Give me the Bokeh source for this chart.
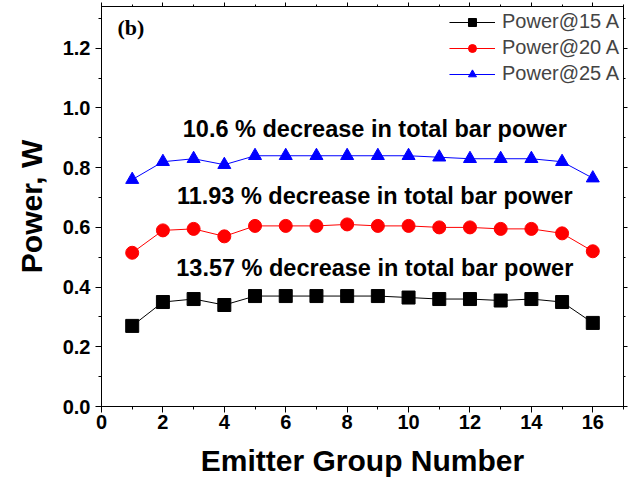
from bokeh.plotting import figure
from bokeh.models import (LinearAxis, Legend, LegendItem, Label, Range1d,
                          SingleIntervalTicker, NumeralTickFormatter)
from bokeh.embed import file_html
from bokeh.resources import INLINE

emitter = list(range(1, 17))
power_15A = [0.27, 0.35, 0.36, 0.34, 0.37, 0.37, 0.37, 0.37, 0.37, 0.365, 0.36, 0.36, 0.355, 0.36, 0.35, 0.28]
power_20A = [0.515, 0.59, 0.595, 0.57, 0.605, 0.605, 0.605, 0.61, 0.605, 0.605, 0.60, 0.60, 0.595, 0.595, 0.58, 0.52]
power_25A = [0.76, 0.82, 0.83, 0.81, 0.84, 0.84, 0.84, 0.84, 0.84, 0.84, 0.835, 0.83, 0.83, 0.83, 0.82, 0.765]
series_labels = ["Power@15 A", "Power@20 A", "Power@25 A"]
annotation_texts = ["10.6 % decrease in total bar power",
                    "11.93 % decrease in total bar power",
                    "13.57 % decrease in total bar power"]
annotation_x = [8.9, 8.9, 8.9]
annotation_y = [0.93, 0.705, 0.465]
panel_label = "(b)"

FONT = "Liberation Sans"

p = figure(width=629, height=484,
           x_range=Range1d(0, 17), y_range=Range1d(0, 1.34),
           output_backend="svg", toolbar_location=None,
           x_axis_location=None, y_axis_location=None,
           min_border_left=101, min_border_right=6, min_border_top=6, min_border_bottom=78)
p.xgrid.visible = False
p.ygrid.visible = False
p.outline_line_color = "black"
p.background_fill_color = "white"


def make_axis(kind, loc, labelled):
    if kind == "x":
        ticker = SingleIntervalTicker(interval=2, num_minor_ticks=2)
    else:
        ticker = SingleIntervalTicker(interval=0.2, num_minor_ticks=2)
    ax = LinearAxis(ticker=ticker)
    ax.axis_line_color = "black"
    ax.major_tick_line_color = "black"
    ax.minor_tick_line_color = "black"
    ax.major_tick_in = 0
    ax.minor_tick_in = 0
    if labelled:
        ax.major_tick_out = 6
        ax.minor_tick_out = 3
        ax.major_label_text_font = FONT
        ax.major_label_text_font_style = "bold"
        ax.major_label_text_font_size = "20px"
        ax.major_label_text_color = "black"
        ax.axis_label_text_font = FONT
        ax.axis_label_text_font_style = "bold"
        ax.axis_label_text_font_size = "30px"
        ax.axis_label_text_color = "black"
        if kind == "y":
            ax.formatter = NumeralTickFormatter(format="0.0")
            ax.axis_label = "Power, W"
            ax.axis_label_standoff = 12
            ax.major_label_standoff = 5
        else:
            ax.axis_label = "Emitter Group Number"
            ax.axis_label_standoff = 12
            ax.major_label_standoff = 2
    else:
        ax.major_tick_out = 4
        ax.minor_tick_out = 2
        ax.major_label_text_font_size = "0px"
        ax.major_label_standoff = 0
        ax.major_label_text_alpha = 0
    p.add_layout(ax, loc)
    return ax


make_axis("x", "below", True)
make_axis("y", "left", True)
make_axis("x", "above", False)
make_axis("y", "right", False)

l1 = p.line(emitter, power_15A, line_color="black", line_width=1)
s1 = p.scatter(emitter, power_15A, marker="square", size=13, fill_color="black", line_color="black")
l2 = p.line(emitter, power_20A, line_color="red", line_width=1)
s2 = p.scatter(emitter, power_20A, marker="circle", size=13, fill_color="red", line_color="red")
l3 = p.line(emitter, power_25A, line_color="blue", line_width=1)
s3 = p.scatter(emitter, power_25A, marker="triangle", size=13, fill_color="blue", line_color="blue")

legend = Legend(items=[LegendItem(label=series_labels[0], renderers=[l1, s1]),
                       LegendItem(label=series_labels[1], renderers=[l2, s2]),
                       LegendItem(label=series_labels[2], renderers=[l3, s3])],
                location="top_right")
legend.border_line_color = None
legend.background_fill_alpha = 0
legend.label_text_font = FONT
legend.label_text_font_size = "20px"
legend.glyph_width = 46
legend.glyph_height = 20
legend.spacing = 3
legend.label_standoff = 7
legend.margin = 4
legend.padding = 0
p.add_layout(legend)

for t, x, y in zip(annotation_texts, annotation_x, annotation_y):
    p.add_layout(Label(x=x, y=y, text=t, text_align="center", text_baseline="middle",
                       text_font=FONT, text_font_style="bold", text_font_size="23.5px",
                       text_color="black"))

p.add_layout(Label(x=0.52, y=1.27, text=panel_label, text_baseline="middle",
                   text_font="Liberation Serif", text_font_style="bold",
                   text_font_size="22px", text_color="black"))

open("out.html", "w").write(file_html(p, INLINE))
